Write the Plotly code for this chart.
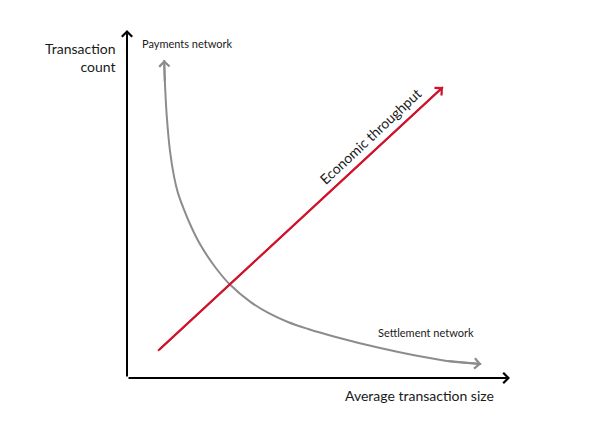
import plotly.graph_objects as go

# Gray curve (payments -> settlement) in axis units (0-10)
curve_x = [0.97, 0.99, 1.04, 1.12, 1.23, 1.33, 1.47, 1.68, 1.92, 2.30,
           2.70, 3.23, 3.69, 4.20, 4.73, 5.45, 6.61, 7.47, 8.35, 9.25]
curve_y = [9.14, 8.48, 7.50, 6.55, 5.78, 5.32, 4.89, 4.34, 3.82, 3.19,
           2.67, 2.18, 1.87, 1.61, 1.41, 1.18, 0.86, 0.66, 0.49, 0.40]

# Red line (economic throughput)
line_x = [0.81, 8.25]
line_y = [0.78, 8.36]

# Axis extents
axis_x = [0, 10]
axis_y = [0, 10]

font_name = 'Lato, Open Sans, sans-serif'
gray = '#8c8c8c'
red = '#d0142c'

fig = go.Figure()

# Gray curve
fig.add_trace(go.Scatter(
    x=curve_x,
    y=curve_y,
    mode='lines',
    line=dict(color=gray, width=2, shape='spline', smoothing=1.0),
    hoverinfo='skip'
))

# Red line
fig.add_trace(go.Scatter(
    x=line_x,
    y=line_y,
    mode='lines',
    line=dict(color=red, width=2),
    hoverinfo='skip'
))

arrows = []

# Axes with arrows
arrows.append(dict(x=axis_x[1], y=axis_y[0], ax=axis_x[0], ay=axis_y[0],
                   arrowcolor='black', arrowwidth=2))
arrows.append(dict(x=axis_x[0], y=axis_y[1], ax=axis_x[0], ay=axis_y[0],
                   arrowcolor='black', arrowwidth=2))

# Arrow heads on the curve ends
arrows.append(dict(x=curve_x[0], y=curve_y[0], ax=curve_x[1], ay=curve_y[1],
                   arrowcolor=gray, arrowwidth=2))
arrows.append(dict(x=curve_x[-1], y=curve_y[-1], ax=curve_x[-2], ay=curve_y[-2],
                   arrowcolor=gray, arrowwidth=2))

# Arrow head on red line
arrows.append(dict(x=line_x[1], y=line_y[1], ax=line_x[0], ay=line_y[0],
                   arrowcolor=red, arrowwidth=2))

for a in arrows:
    fig.add_annotation(
        xref='x', yref='y', axref='x', ayref='y',
        text='', showarrow=True, arrowhead=4, arrowsize=1,
        standoff=0, startstandoff=0, **a
    )

# Labels
fig.add_annotation(x=-0.23, y=9.22, text='Transaction<br>count', showarrow=False,
                   xanchor='right', align='right', font=dict(size=14))
fig.add_annotation(x=1.59, y=9.6, text='Payments network', showarrow=False,
                   font=dict(size=11))
fig.add_annotation(x=7.81, y=1.32, text='Settlement network', showarrow=False,
                   font=dict(size=11))
fig.add_annotation(x=7.65, y=-0.49, text='Average transaction size', showarrow=False,
                   font=dict(size=14))
fig.add_annotation(x=6.34, y=6.95, text='Economic throughput', showarrow=False,
                   textangle=-43, font=dict(size=14))

# Make the axes span the whole canvas so all text sits inside the range
# (shifted a little to make up for the page's body margin)
layout = go.Layout(
    width=600,
    height=427,
    margin=dict(l=0, r=0, t=0, b=0),
    plot_bgcolor='white',
    paper_bgcolor='white',
    showlegend=False,
    font_family=font_name,
    font_color='#1a1a1a',
    xaxis=dict(range=[-3.107, 12.559], visible=False, fixedrange=True),
    yaxis=dict(range=[-1.638, 10.632], visible=False, fixedrange=True),
)
fig.update_layout(layout)
fig.write_html("out.html")
